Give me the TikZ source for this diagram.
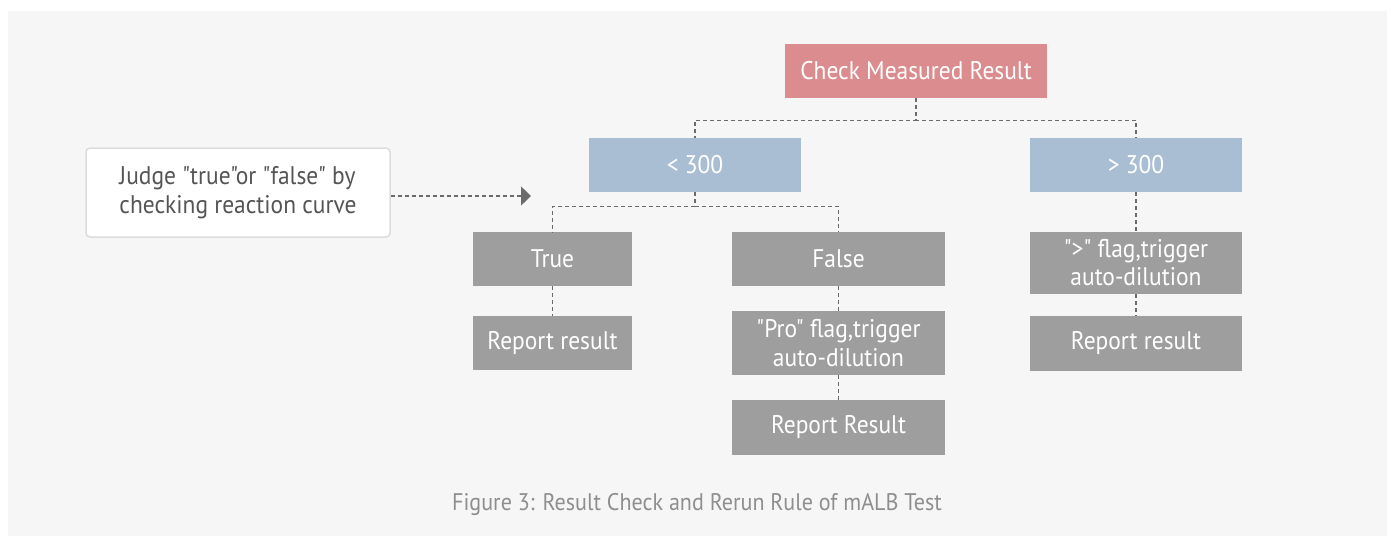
\documentclass[tikz,border=0pt]{standalone}
\usepackage{fontspec}
\setmainfont{PT Sans}[Ligatures=TeXOff, FakeStretch=0.92]
\usetikzlibrary{arrows.meta}
\definecolor{panel}{HTML}{F6F6F6}
\definecolor{pinkbox}{HTML}{DB8C8F}
\definecolor{bluebox}{HTML}{A9BED3}
\definecolor{graybox}{HTML}{9E9E9E}
\definecolor{conn}{HTML}{6B6B6B}
\definecolor{judgeborder}{HTML}{DCDCDC}
\definecolor{judgetext}{HTML}{555555}
\definecolor{captext}{HTML}{8E8E8E}
\tikzset{
  boxbase/.style={inner sep=0pt, align=center, text=white, font=\fontsize{25.5}{29}\selectfont},
  pinkstep/.style={boxbase, fill=pinkbox},
  bluestep/.style={boxbase, fill=bluebox},
  graystep/.style={boxbase, fill=graybox},
  conline/.style={draw=conn, line width=1.3pt, dash pattern=on 4pt off 3pt},
}
\begin{document}
\begin{tikzpicture}[x=1pt,y=-1pt]
\useasboundingbox (0,0) rectangle (1393,536);
\fill[panel] (8,11) rectangle (1387,536);
% nodes
\node[pinkstep, minimum width=262pt, minimum height=54pt] (check) at (916,71) {Check Measured Result};
\node[bluestep, minimum width=212pt, minimum height=54pt] (lt) at (695,165) {< 300};
\node[bluestep, minimum width=212pt, minimum height=54pt] (gt) at (1136,165) {> 300};
\node[draw=judgeborder, fill=white, line width=1.5pt, rounded corners=4pt, minimum width=304pt, minimum height=89pt, inner sep=0pt, align=left, text=judgetext, font=\fontsize{25.5}{29}\selectfont] (judge) at (238,192.5) {Judge "true"or "false" by\\checking reaction curve};
\node[graystep, minimum width=159pt, minimum height=54pt] (true) at (552.5,259) {True};
\node[graystep, minimum width=213pt, minimum height=54pt] (false) at (838.5,259) {False};
\node[graystep, minimum width=212pt, minimum height=62pt, font=\fontsize{25.5}{28}\selectfont] (gtflag) at (1136,263) {">" flag,trigger\\auto-dilution};
\node[graystep, minimum width=159pt, minimum height=54pt] (rep1) at (552.5,343) {Report result};
\node[graystep, minimum width=213pt, minimum height=64pt] (pro) at (838.5,343) {"Pro" flag,trigger\\auto-dilution};
\node[graystep, minimum width=213pt, minimum height=55pt] (rep2) at (838.5,427.5) {Report Result};
\node[graystep, minimum width=212pt, minimum height=55pt] (rep3) at (1136,343.5) {Report result};
\node[text=captext, font=\fontsize{24}{28}\selectfont, inner sep=0pt] (cap) at (697,504) {Figure 3: Result Check and Rerun Rule of mALB Test};
% connectors
\draw[conline] (check.south) -- ++(0,22) -| (lt.north);
\draw[conline] (check.south) -- ++(0,22) -| (gt.north);
\draw[conline] (lt.south) -- ++(0,14) -| (true.north);
\draw[conline] (lt.south) -- ++(0,14) -| (false.north);
\draw[conline] (gt.south) -- (gtflag.north);
\draw[conline] (true.south) -- (rep1.north);
\draw[conline] (false.south) -- (pro.north);
\draw[conline] (pro.south) -- (rep2.north);
\draw[conline] (gtflag.south) -- (rep3.north);
\coordinate (tip) at (531,196);
\draw[conline, -{Triangle[length=10pt,width=19pt]}] (judge.east |- tip) -- (tip);
\end{tikzpicture}
\end{document}
